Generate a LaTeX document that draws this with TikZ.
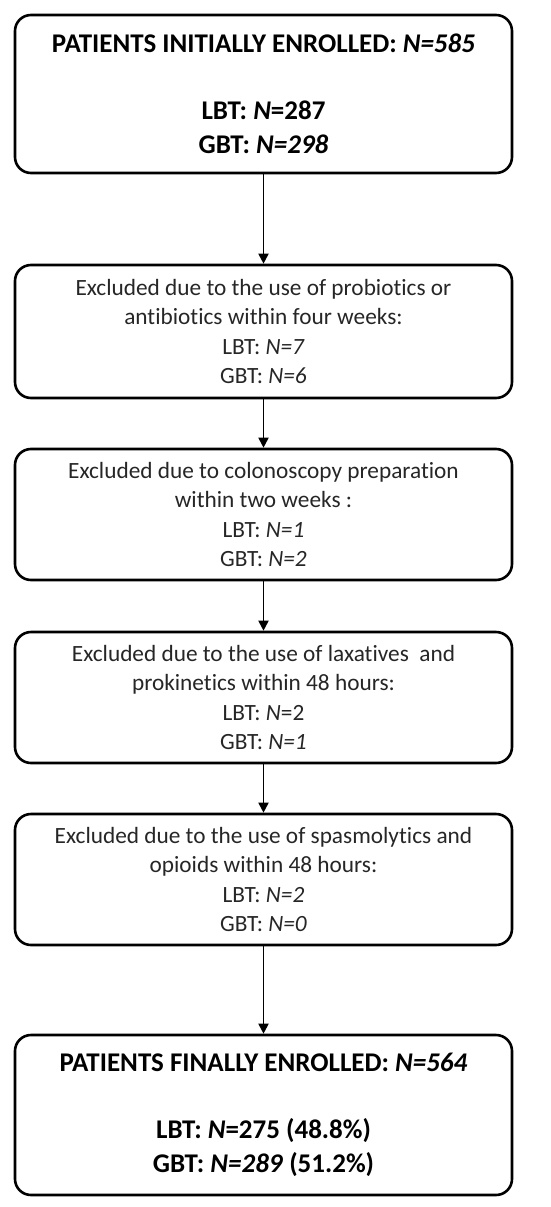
\documentclass[tikz,border=0pt]{standalone}
\usepackage{fontspec}
\setmainfont{Carlito}[Ligatures={NoCommon}]
\usetikzlibrary{arrows.meta}
\begin{document}
\begin{tikzpicture}[x=1pt,y=1pt,
  box/.style={draw=black, line width=2.6pt, rounded corners=16pt, minimum width=497pt, align=center, inner sep=0pt},
  bigbox/.style={box, font=\fontsize{27}{33.5}\selectfont\bfseries},
  smallbox/.style={box, font=\fontsize{23.3}{29.5}\selectfont, text=black!85},
  arr/.style={line width=1.8pt, -{Triangle[width=10pt,length=10pt]}}]
\useasboundingbox (0,0) rectangle (550,-1207);
\node[bigbox, minimum height=158pt] (b1) at (263.5,-94) {PATIENTS INITIALLY ENROLLED: \textit{N=585}\\[33.5pt] LBT: \textit{N}=287\\ GBT: \textit{N=298}};
\node[smallbox, minimum height=133pt] (b2) at (263.5,-331.5) {Excluded due to the use of probiotics or\\ antibiotics within four weeks:\\ LBT: \textit{N=7}\\ GBT: \textit{N=6}};
\node[smallbox, minimum height=131pt] (b3) at (263.5,-514.5) {Excluded due to colonoscopy preparation\\ within two weeks :\\ LBT: \textit{N=1}\\ GBT: \textit{N=2}};
\node[smallbox, minimum height=131pt] (b4) at (263.5,-697.5) {Excluded due to the use of laxatives~ and\\ prokinetics within 48 hours:\\ LBT: \textit{N}=2\\ GBT: \textit{N=1}};
\node[smallbox, minimum height=131pt] (b5) at (263.5,-879.5) {Excluded due to the use of spasmolytics and\\ opioids within 48 hours:\\ LBT: \textit{N=2}\\ GBT: \textit{N=0}};
\node[bigbox, minimum height=160pt] (b6) at (263.5,-1115) {PATIENTS FINALLY ENROLLED: \textit{N=564}\\[33.5pt] LBT: \textit{N}=275 (48.8\%)\\ GBT: \textit{N=289} (51.2\%)};
\draw[arr] (b1.south) -- (b2.north);
\draw[arr] (b2.south) -- (b3.north);
\draw[arr] (b3.south) -- (b4.north);
\draw[arr] (b4.south) -- (b5.north);
\draw[arr] (b5.south) -- (b6.north);
\end{tikzpicture}
\end{document}
